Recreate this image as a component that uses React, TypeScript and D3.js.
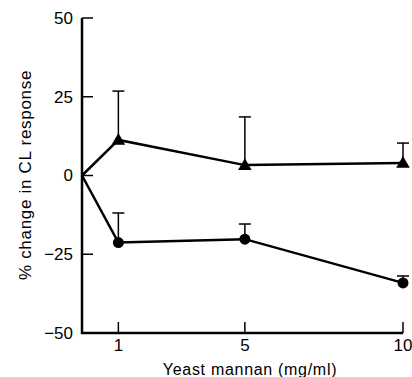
import React from 'react';
import * as d3 from 'd3';

// doses of yeast mannan (mg/ml)
const doses = [1, 5, 10];
// triangles
const triangleMean = [11.3, 3.3, 4];
const triangleErr = [15.5, 15.3, 6.3];
// circles
const circleMean = [-21.3, -20.2, -34.1];
const circleErr = [9.4, 4.8, 2.2];

const yTicks = [50, 25, 0, -25, -50];
const xTicks = [1, 5, 10];

const width = 412;
const height = 377;
const margin = { left: 82, right: 9, top: 18, bottom: 44 };

const font = '"Liberation Sans", Arial, sans-serif';

export default function App() {
	const xScale = d3
		.scaleLinear()
		.domain([-0.15, 10])
		.range([margin.left, width - margin.right]);
	const yScale = d3
		.scaleLinear()
		.domain([-50, 50])
		.range([height - margin.bottom, margin.top]);

	const x0 = xScale.domain()[0];
	const line = d3
		.line<[number, number]>()
		.x(d => xScale(d[0]))
		.y(d => yScale(d[1]));

	const triPts: [number, number][] = [[x0, 0], ...doses.map((d, i) => [d, triangleMean[i]] as [number, number])];
	const cirPts: [number, number][] = [[x0, 0], ...doses.map((d, i) => [d, circleMean[i]] as [number, number])];

	const tri = d3.symbol().type(d3.symbolTriangle).size(80);

	const yBottom = yScale(-50);
	const xLeft = xScale(x0);

	return (
		<svg width={width} height={height} style={{ position: 'absolute', left: 0, top: 0 }}>
			<rect width={width} height={height} fill="#fff" />
			{/* axes */}
			<path
				d={`M${xLeft},${yScale(50)}V${yBottom}H${xScale(10)}`}
				fill="none"
				stroke="#000"
				strokeWidth={2.5}
			/>
			{yTicks.map(t => (
				<g key={'y' + t}>
					<line x1={xLeft} x2={xLeft + 11} y1={yScale(t)} y2={yScale(t)} stroke="#000" strokeWidth={1.5} />
					<text
						x={73}
						y={yScale(t)}
						dy="0.35em"
						textAnchor="end"
						fontFamily={font}
						fontSize={17}
						fill="#000"
					>
						{t < 0 ? '\u2212' + Math.abs(t) : t}
					</text>
				</g>
			))}
			{xTicks.map(t => (
				<g key={'x' + t}>
					<line x1={xScale(t)} x2={xScale(t)} y1={yBottom} y2={yBottom - 11} stroke="#000" strokeWidth={1.5} />
					<text x={xScale(t)} y={351} textAnchor="middle" fontFamily={font} fontSize={17} fill="#000">
						{t}
					</text>
				</g>
			))}
			<text
				x={250}
				y={375}
				textAnchor="middle"
				fontFamily={font}
				fontSize={16}
				letterSpacing={0.7}
				fill="#000"
			>
				Yeast mannan (mg/ml)
			</text>
			<text
				transform={`translate(31,175) rotate(-90)`}
				textAnchor="middle"
				fontFamily={font}
				fontSize={17}
				letterSpacing={0.7}
				fill="#000"
			>
				% change in CL response
			</text>

			{/* lines */}
			<path d={line(triPts) || ''} fill="none" stroke="#000" strokeWidth={2.5} />
			<path d={line(cirPts) || ''} fill="none" stroke="#000" strokeWidth={2.5} />

			{/* error bars */}
			{doses.map((d, i) => (
				<g key={'e' + d} stroke="#000" strokeWidth={1.5}>
					<line x1={xScale(d)} x2={xScale(d)} y1={yScale(triangleMean[i])} y2={yScale(triangleMean[i] + triangleErr[i])} />
					<line x1={xScale(d) - 6} x2={xScale(d) + 6} y1={yScale(triangleMean[i] + triangleErr[i])} y2={yScale(triangleMean[i] + triangleErr[i])} />
					<line x1={xScale(d)} x2={xScale(d)} y1={yScale(circleMean[i])} y2={yScale(circleMean[i] + circleErr[i])} />
					<line x1={xScale(d) - 6} x2={xScale(d) + 6} y1={yScale(circleMean[i] + circleErr[i])} y2={yScale(circleMean[i] + circleErr[i])} />
				</g>
			))}

			{/* markers */}
			{doses.map((d, i) => (
				<g key={'m' + d}>
					<path d={tri() || ''} transform={`translate(${xScale(d)},${yScale(triangleMean[i]) + 1})`} fill="#000" />
					<circle cx={xScale(d)} cy={yScale(circleMean[i])} r={5.5} fill="#000" />
				</g>
			))}
		</svg>
	);
}
